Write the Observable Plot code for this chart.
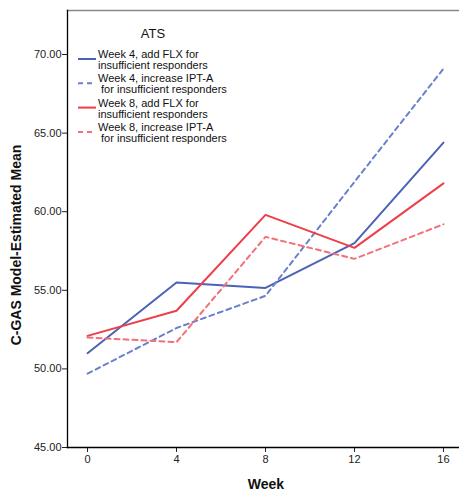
<!DOCTYPE html>
<html>
<head>
<meta charset="utf-8">
<script src="https://cdn.jsdelivr.net/npm/d3@7"></script>
<script src="https://cdn.jsdelivr.net/npm/@observablehq/plot@0.6"></script>
<style>
  html, body { margin: 0; padding: 0; background: #fff; }
  #chart svg { display: block; font-family: "Liberation Sans", Arial, sans-serif; }
</style>
</head>
<body>
<div id="chart"></div>
<script>
// ---- data ----
const weeks = [0, 4, 8, 12, 16];
const seriesNames = [
  "Week 4, add FLX for insufficient responders",
  "Week 4, increase IPT-A for insufficient responders",
  "Week 8, add FLX for insufficient responders",
  "Week 8, increase IPT-A for insufficient responders"
];
const legendLines = [
  ["Week 4, add FLX for", "insufficient responders"],
  ["Week 4, increase IPT-A", " for insufficient responders"],
  ["Week 8, add FLX for", "insufficient responders"],
  ["Week 8, increase IPT-A", " for insufficient responders"]
];
const w4FLX = [51.0, 55.5, 55.15, 58.0, 64.4];
const w4IPT = [49.7, 52.6, 54.65, 61.9, 69.1];
const w8FLX = [52.1, 53.7, 59.8, 57.7, 61.8];
const w8IPT = [52.0, 51.7, 58.4, 57.0, 59.2];
const yTicks = [45, 50, 55, 60, 65, 70];
const xTicks = [0, 4, 8, 12, 16];
const legendTitle = "ATS";
const xTitle = "Week";
const yTitle = "C-GAS Model-Estimated Mean";

// ---- styles ----
const colors = ["#4b63b6", "#6a80cc", "#ee3e48", "#f27078"];
const dashes = [null, "5,4", null, "5,4"];
const allValues = [w4FLX, w4IPT, w8FLX, w8IPT];

const rows = [];
allValues.forEach((vals, si) => vals.forEach((v, i) => rows.push({series: seriesNames[si], week: weeks[i], value: v})));

const W = 459, H = 492;
const chart = Plot.plot({
  width: W,
  height: H,
  marginLeft: 67,
  marginRight: 0,
  marginTop: 10,
  marginBottom: 45,
  style: {fontFamily: "'Liberation Sans', Arial, sans-serif", fontSize: "11px", color: "#222", background: "#fff"},
  x: {domain: [-0.9, 16.72], ticks: xTicks, tickSize: 5, tickPadding: 4, label: null, tickFormat: d => String(d)},
  y: {domain: [45, 72.8], ticks: yTicks, tickSize: 5, tickPadding: 2, label: null, tickFormat: d3.format(".2f")},
  marks: [
    Plot.frame({anchor: "top", stroke: "#888", strokeWidth: 1.5}),
    ...seriesNames.map((name, si) => Plot.line(rows.filter(r => r.series === name), {
      x: "week", y: "value", stroke: colors[si], strokeWidth: 2,
      strokeDasharray: dashes[si] || undefined
    })),
    Plot.axisX({ticks: xTicks, tickSize: 5, tickPadding: 3, label: null, fontSize: 11}),
    Plot.axisY({ticks: yTicks, tickSize: 5, tickPadding: 1, label: null, tickFormat: d3.format(".2f"), fontSize: 11}),
    Plot.frame({anchor: "left", stroke: "#000", strokeWidth: 1.3}),
    Plot.frame({anchor: "bottom", stroke: "#000", strokeWidth: 1.3})
  ]
});
document.getElementById("chart").appendChild(chart);

// ---- titles and legend ----
const svg = d3.select(chart);
svg.append("text").attr("x", 266).attr("y", 489).attr("text-anchor", "middle")
  .attr("font-weight", "bold").attr("font-size", 14).attr("fill", "#111").text(xTitle);
svg.append("text").attr("transform", "translate(21,245) rotate(-90)").attr("text-anchor", "middle")
  .attr("font-weight", "bold").attr("font-size", 14).attr("fill", "#111").text(yTitle);

const lg = svg.append("g").attr("font-size", 11).attr("fill", "#111").attr("text-anchor", "start");
lg.append("text").attr("x", 153).attr("y", 38).attr("text-anchor", "middle").attr("font-size", 13).text(legendTitle);
legendLines.forEach((lines, i) => {
  const y0 = 58 + i * 24.3;
  lg.append("line").attr("x1", 78).attr("x2", 96).attr("y1", y0 + 1).attr("y2", y0 + 1)
    .attr("stroke", colors[i]).attr("stroke-width", 2)
    .attr("stroke-dasharray", dashes[i] || null);
  lines.forEach((t, j) => {
    lg.append("text").attr("x", 98).attr("y", y0 + j * 11).attr("text-anchor", "start")
      .style("white-space", "pre").text(t);
  });
});
</script>
</body>
</html>
